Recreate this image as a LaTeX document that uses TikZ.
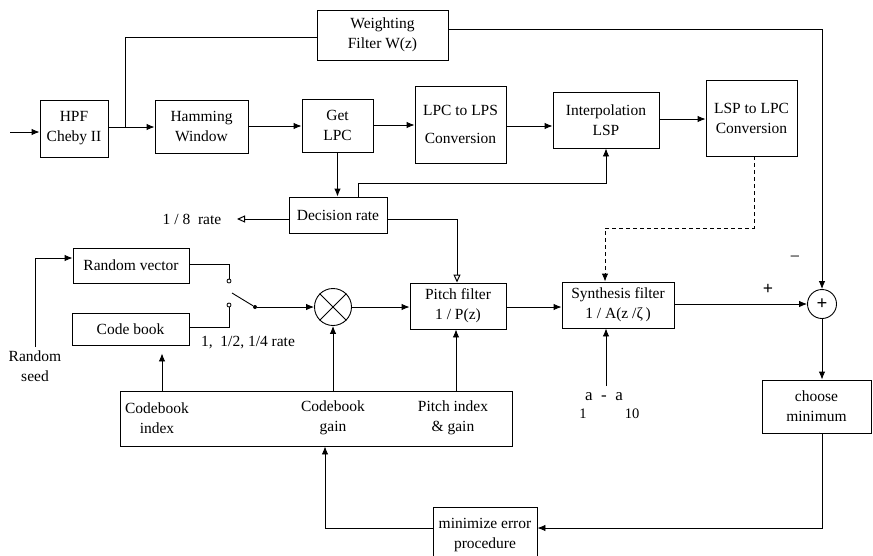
\documentclass[tikz,border=0pt]{standalone}
\usepackage{fontspec}
\setmainfont{Liberation Serif}
\usetikzlibrary{arrows.meta,calc}
\begin{document}
\begin{tikzpicture}[x=1pt,y=-1pt,
  font=\fontsize{15.5}{20}\selectfont,
  blk/.style={draw, line width=0.9pt, inner sep=1pt, align=center},
  con/.style={line width=0.9pt},
  arr/.style={con, -{Latex[length=8pt,width=6.5pt]}},
  oarr/.style={con, -{Triangle[open,length=8pt,width=7pt,line width=1pt]}},
  contact/.style={circle, draw, line width=0.8pt, fill=white, inner sep=0pt, minimum size=4pt},
  lbl/.style={inner sep=0pt, align=center}]
\useasboundingbox (0,0) rectangle (873,555);
\clip (0,0) rectangle (873,555);

% blocks
\node[blk, minimum width=68pt, minimum height=57pt] (hpf) at (74,128.5) {HPF\\Cheby II};
\node[blk, minimum width=93pt, minimum height=53pt] (ham) at (201.5,126.5) {Hamming\\Window};
\node[blk, minimum width=71pt, minimum height=53pt] (getlpc) at (337.5,125.5) {Get\\LPC};
\node[blk, minimum width=131pt, minimum height=50pt] (wf) at (382.5,35) {Weighting\\Filter W(z)};
\node[blk, minimum width=91pt, minimum height=77pt] (lps) at (460.5,124.5) {LPC to LPS\\[8pt]Conversion};
\node[blk, minimum width=106pt, minimum height=56pt] (interp) at (606,120) {Interpolation\\LSP};
\node[blk, minimum width=91pt, minimum height=76pt] (lsp) at (751.5,118) {LSP to LPC\\Conversion};
\node[blk, minimum width=98pt, minimum height=36pt] (dec) at (338,215) {Decision rate};
\node[blk, minimum width=116pt, minimum height=35pt] (rv) at (131,265.5) {Random vector};
\node[blk, minimum width=117pt, minimum height=32pt] (cb) at (130.5,329) {Code book};
\node[circle, draw, line width=0.9pt, minimum size=37pt, inner sep=0pt] (mult) at (333,307) {};
\draw[con] (mult.north west) -- (mult.south east) (mult.north east) -- (mult.south west);
\node[blk, minimum width=96pt, minimum height=46pt] (pitch) at (458,306) {Pitch filter\\1 / P(z)};
\node[blk, minimum width=112pt, minimum height=46pt] (synth) at (618,305) {Synthesis filter\\1 / A(z /ζ\,)};
\node[circle, draw, line width=0.9pt, minimum size=29pt, inner sep=0pt, font=\fontsize{19}{20}\bfseries] (sum) at (822,304) {+};
\node[blk, minimum width=109pt, minimum height=53pt] (choose) at (816.5,406.5) {choose\\minimum};
\node[blk, minimum width=392pt, minimum height=55pt] (params) at (316,418.5) {};
\node[blk, minimum width=104pt, minimum height=56pt] (minerr) at (485,535) {minimize error\\procedure};

% labels
\node[lbl] (pidx1) at (157,418) {Codebook\\index};
\node[lbl] (pidx2) at (333,418) {Codebook\\gain};
\node[lbl] (pidx3) at (453,418) {Pitch index\\\& gain};
\node[lbl] (r8) at (192,219) {1 / 8~ rate};
\node[lbl] (rates) at (248,343) {1,~ 1/2, 1/4 rate};
\node[lbl] (seed) at (35,366) {Random\\seed};
\node[lbl, font=\fontsize{18}{20}\selectfont] (minus) at (795,259) {\textminus};
\node[lbl, font=\fontsize{18}{20}\bfseries] (plus) at (768,289) {+};
\node[lbl, font=\fontsize{17}{20}\selectfont] (aa) at (604,397) {a~~-~~a};
\node[lbl, font=\fontsize{14.5}{15}\selectfont] (s1) at (583,414) {1};
\node[lbl, font=\fontsize{14.5}{15}\selectfont] (s10) at (632,414) {10};

% switch
\node[contact] (sw1) at (229,281) {};
\node[contact] (sw2) at (229,305) {};
\node[circle, fill, inner sep=0pt, minimum size=4pt] (pv) at (255,307) {};
\coordinate (tip) at (232,293);

% coordinates
\coordinate (in) at (10,132);
\coordinate (br) at (125,127);
\coordinate (seedtop) at (35,347);
\coordinate (aatop) at (606,386);
\coordinate (r8tip) at (237,219);
\coordinate (wfout) at (448,29);
\coordinate (wfin) at (317,37);
\coordinate (sumcol) at (822,29);
\coordinate (dash1) at (754,228);
\coordinate (dash2) at (605,228);
\coordinate (decup) at (358,183);
\coordinate (chdown) at (822,528);
\coordinate (merr) at (325,528);

% connectors
\draw[arr] (in) -- (in -| hpf.west);
\draw[arr] (hpf.east |- br) -- (ham.west |- br);
\draw[con] (br) |- (wfin);
\draw[arr] (ham.east |- 0,126) -- (getlpc.west |- 0,126);
\draw[arr] (getlpc.east |- 0,125) -- (lps.west |- 0,125);
\draw[arr] (lps.east |- 0,126) -- (interp.west |- 0,126);
\draw[arr] (interp.east |- 0,119) -- (lsp.west |- 0,119);
\draw[arr] (getlpc.south) -- (getlpc.south |- dec.north);
\draw[arr] (dec.north -| decup) -- (decup) -| (interp.south);
\draw[arr] (wfout) -- (sumcol) -- (sum.north);
\draw[arr, dash pattern=on 4pt off 3pt] (lsp.south -| dash1) -- (dash1) -- (dash2) -- (synth.north -| dash2);
\draw[oarr] (dec.west |- r8tip) -- (r8tip);
\draw[oarr] (dec.east |- r8tip) -| (pitch.north -| 457,0);
\draw[arr] (seedtop) |- (rv.west |- 0,258);
\draw[con] (rv.east |- 0,264) -| (sw1);
\draw[con] (cb.east |- 0,327) -| (sw2);
\draw[con] (tip) -- (pv);
\draw[arr] (pv) -- (mult.west);
\draw[arr] (mult.east) -- (mult.east -| pitch.west);
\draw[arr] (pitch.east |- 0,307) -- (synth.west |- 0,307);
\draw[arr] (synth.east |- sum.west) -- (sum.west);
\draw[arr] (sum.south) -- (sum.south |- choose.north);
\draw[arr] (choose.south -| chdown) -- (chdown) -- (minerr.east |- chdown);
\draw[arr] (minerr.west |- merr) -- (merr) -- (params.south -| merr);
\draw[arr, shorten >=8pt] (params.north -| 162,0) -- (cb.south -| 162,0);
\draw[arr] (params.north -| mult.south) -- (mult.south);
\draw[arr] (params.north -| 456,0) -- (pitch.south -| 456,0);
\draw[arr] (aatop) -- (synth.south -| aatop);
\end{tikzpicture}
\end{document}
